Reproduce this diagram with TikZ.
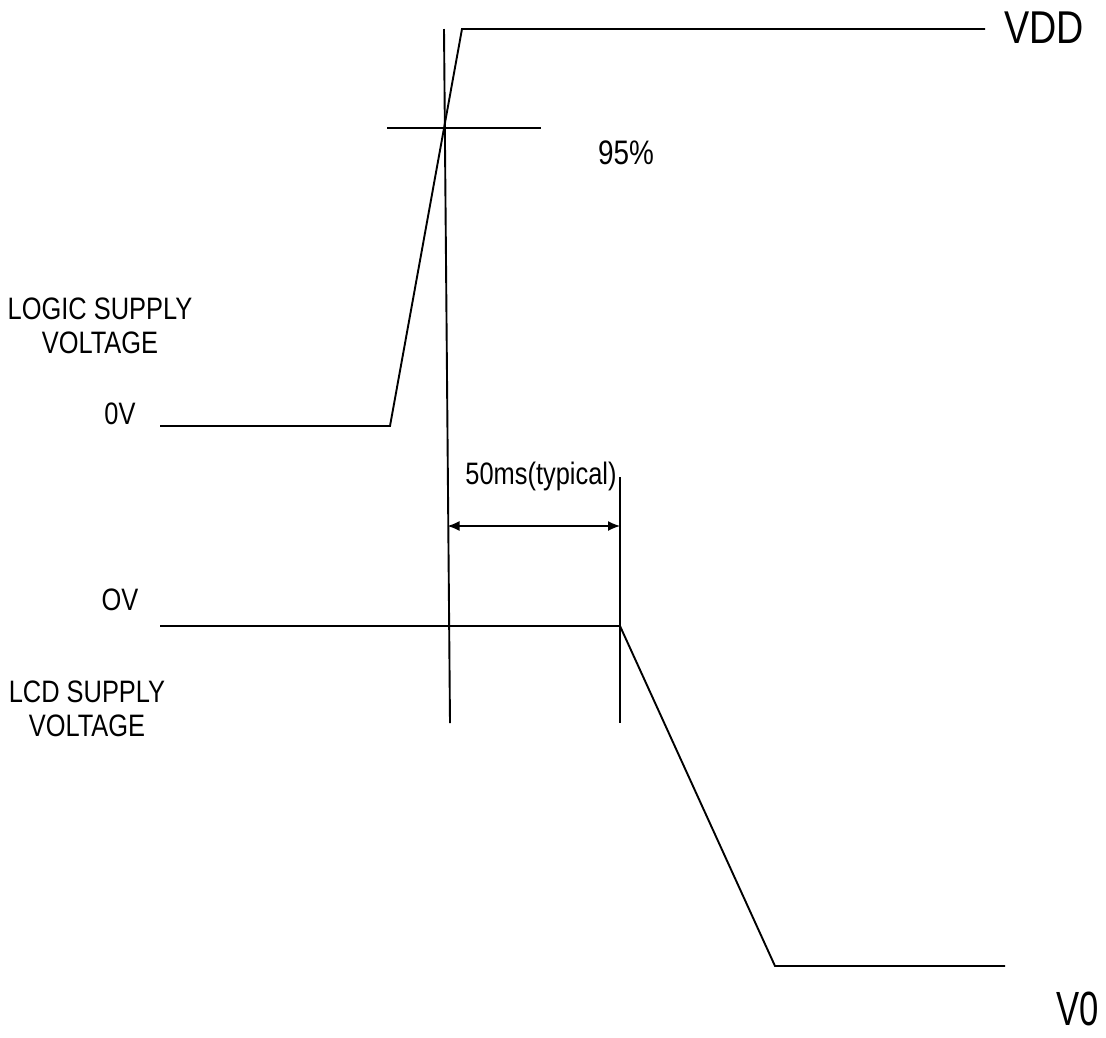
\documentclass[tikz,border=0pt]{standalone}
\usepackage{fontspec}
\setmainfont{Liberation Sans}[FakeStretch=0.82]
\usetikzlibrary{arrows.meta}
\begin{document}
\begin{tikzpicture}[x=1pt,y=-1pt,
  wave/.style={line width=1.9pt,line join=miter},
  guide/.style={line width=1.9pt},
  lbl/.style={inner sep=0pt,font=\fontsize{31}{36}\selectfont},
  big/.style={inner sep=0pt,font=\fontsize{46}{50}\selectfont},
  dim/.style={line width=1.4pt,{Latex[length=12pt,width=10pt]}-{Latex[length=12pt,width=10pt]}}]
\useasboundingbox (0,0) rectangle (1106,1037);
% logic supply waveform
\coordinate (l0) at (160,426);
\coordinate (l1) at (390,426);
\coordinate (l2) at (462,29);
\coordinate (l3) at (985,29);
\draw[wave] (l0) -- (l1) -- (l2) -- (l3);
% LCD supply waveform
\coordinate (c0) at (160,626);
\coordinate (c1) at (620,626);
\coordinate (c2) at (775,966);
\coordinate (c3) at (1005,966);
\draw[wave] (c0) -- (c1) -- (c2) -- (c3);
% guide lines
\coordinate (g1t) at (444,29);
\coordinate (g1b) at (450,723);
\draw[guide] (g1t) -- (g1b);
\coordinate (g2t) at (620,477);
\coordinate (g2b) at (620,723);
\draw[guide] (g2t) -- (g2b);
\coordinate (h1) at (387,128);
\coordinate (h2) at (541,128);
\draw[guide] (h1) -- (h2);
% dimension arrow
\coordinate (a1) at (447.5,526);
\coordinate (a2) at (620,526);
\draw[dim] (a1) -- (a2);
% labels
\node[big] (vdd) at (1044,28) {VDD};
\node[big,font=\fontsize{48}{54}\selectfont,xscale=0.88,transform shape] (v0) at (1078,1009) {V0};
\node[lbl,font=\fontsize{34}{38}\selectfont] (p95) at (626,153) {95\%};
\node[lbl,align=center] (logic) at (100,326) {LOGIC SUPPLY\\[-2pt]VOLTAGE};
\node[lbl] (ov1) at (120,414) {0V};
\node[lbl] (ov2) at (120,600) {OV};
\node[lbl,align=center] (lcd) at (87,709) {LCD SUPPLY\\[-2pt]VOLTAGE};
\node[lbl] (typ) at (541,476) {50ms(typical)};
\end{tikzpicture}
\end{document}
